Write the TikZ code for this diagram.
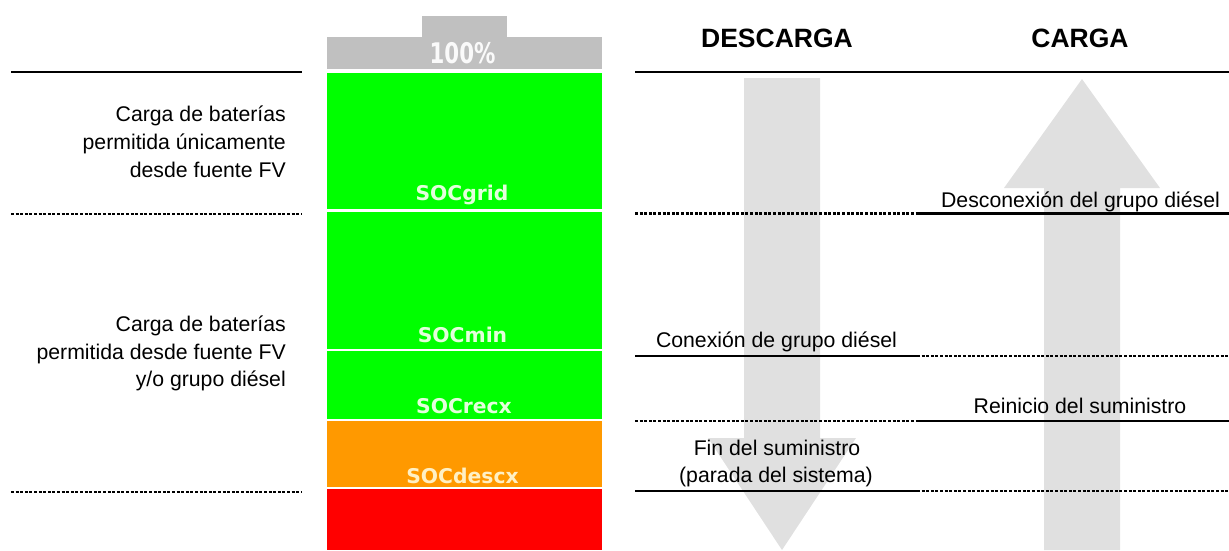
\documentclass[tikz,border=0pt]{standalone}
\usepackage{fontspec}
\setmainfont{Liberation Sans}
\newfontfamily\socfont{DejaVu Sans}
\definecolor{batgray}{HTML}{C0C0C0}
\definecolor{batgreen}{HTML}{00FF00}
\definecolor{batorange}{HTML}{FF9900}
\definecolor{batred}{HTML}{FF0000}
\definecolor{arrowgray}{HTML}{E0E0E0}
\definecolor{palegreen}{HTML}{E4FFDC}
\definecolor{paleorange}{HTML}{FFF0C4}
\definecolor{palegray}{HTML}{FAFAFA}
\tikzset{
  solidlvl/.style={line width=2.4pt, black},
  dotlvl/.style={line width=2.4pt, black, dash pattern=on 3pt off 1.6pt},
  lbl/.style={font=\fontsize{21.25}{26}\selectfont, inner sep=0pt},
  hdr/.style={font=\bfseries\fontsize{26.5}{30}\selectfont, inner sep=0pt},
  soc/.style={font=\socfont\bfseries\fontsize{20.3}{24}\selectfont, inner sep=0pt},
  arrowshape/.style={fill=arrowgray, draw=none}
}
\begin{document}
\begin{tikzpicture}[x=1pt, y=-1pt]
\useasboundingbox (0,0) rectangle (1229,550);

% big gray arrows
\fill[arrowshape] (744,78) -- (820,78) -- (820,438) -- (856,438) -- (782,550)
  -- (708,438) -- (744,438) -- cycle;
\fill[arrowshape] (1082,79) -- (1160,188) -- (1120,188) -- (1120,550)
  -- (1044,550) -- (1044,188) -- (1004,188) -- cycle;

% battery
\fill[batgray] (422,16) rectangle (507,38);
\fill[batgray] (327,37) rectangle (602,69);
\fill[batgreen] (327,73) rectangle (602,209);
\fill[batgreen] (327,211.5) rectangle (602,348.5);
\fill[batgreen] (327,351) rectangle (602,418.5);
\fill[batorange] (327,421) rectangle (602,486.5);
\fill[batred] (327,489) rectangle (602,550);

\node[soc, anchor=base, text=palegray] (full) at (462.5,63) {\scalebox{1.05}[1.4]{100\%}};
\node[soc, anchor=base, text=palegreen] (socgrid) at (462,200) {SOCgrid};
\node[soc, anchor=base, text=palegreen] (socmin) at (462.5,342) {SOCmin};
\node[soc, anchor=base, text=palegreen] (socrecx) at (464,413) {SOCrecx};
\node[soc, anchor=base, text=paleorange] (socdescx) at (462.5,483) {SOCdescx};

% left level lines
\draw[solidlvl] (11,72) -- (302,72);
\draw[dotlvl] (11,214) -- (302,214);
\draw[dotlvl] (11,492) -- (302,492);

% right level lines
\draw[solidlvl] (635,72) -- (1229,72);
\draw[dotlvl] (635,213.5) -- (917,213.5);
\draw[solidlvl] (917,213.5) -- (1229,213.5);
\draw[solidlvl] (635,356) -- (917,356);
\draw[dotlvl] (917,356) -- (1229,356);
\draw[dotlvl] (635,421) -- (917,421);
\draw[solidlvl] (917,421) -- (1229,421);
\draw[solidlvl] (635,491) -- (917,491);
\draw[dotlvl] (917,491) -- (1229,491);

% headers
\node[hdr, anchor=base] (descarga) at (777,47) {DESCARGA};
\node[hdr, anchor=base] (carga) at (1080,47) {CARGA};

% left texts
\node[lbl, anchor=base east] (l1a) at (286,121.5) {Carga de baterías};
\node[lbl, anchor=base east] (l1b) at (286,149.5) {permitida únicamente};
\node[lbl, anchor=base east] (l1c) at (286,177) {desde fuente FV};
\node[lbl, anchor=base east] (l2a) at (286,331.5) {Carga de baterías};
\node[lbl, anchor=base east] (l2b) at (286,359) {permitida desde fuente FV};
\node[lbl, anchor=base east] (l2c) at (286,386.5) {y/o grupo diésel};

% right texts
\node[lbl, anchor=base] (desc) at (1080.5,207) {Desconexión del grupo diésel};
\node[lbl, anchor=base] (conex) at (776.5,347) {Conexión de grupo diésel};
\node[lbl, anchor=base] (reini) at (1080,413) {Reinicio del suministro};
\node[lbl, anchor=base] (fin1) at (777,455) {Fin del suministro};
\node[lbl, anchor=base] (fin2) at (776,482) {(parada del sistema)};
\end{tikzpicture}
\end{document}
